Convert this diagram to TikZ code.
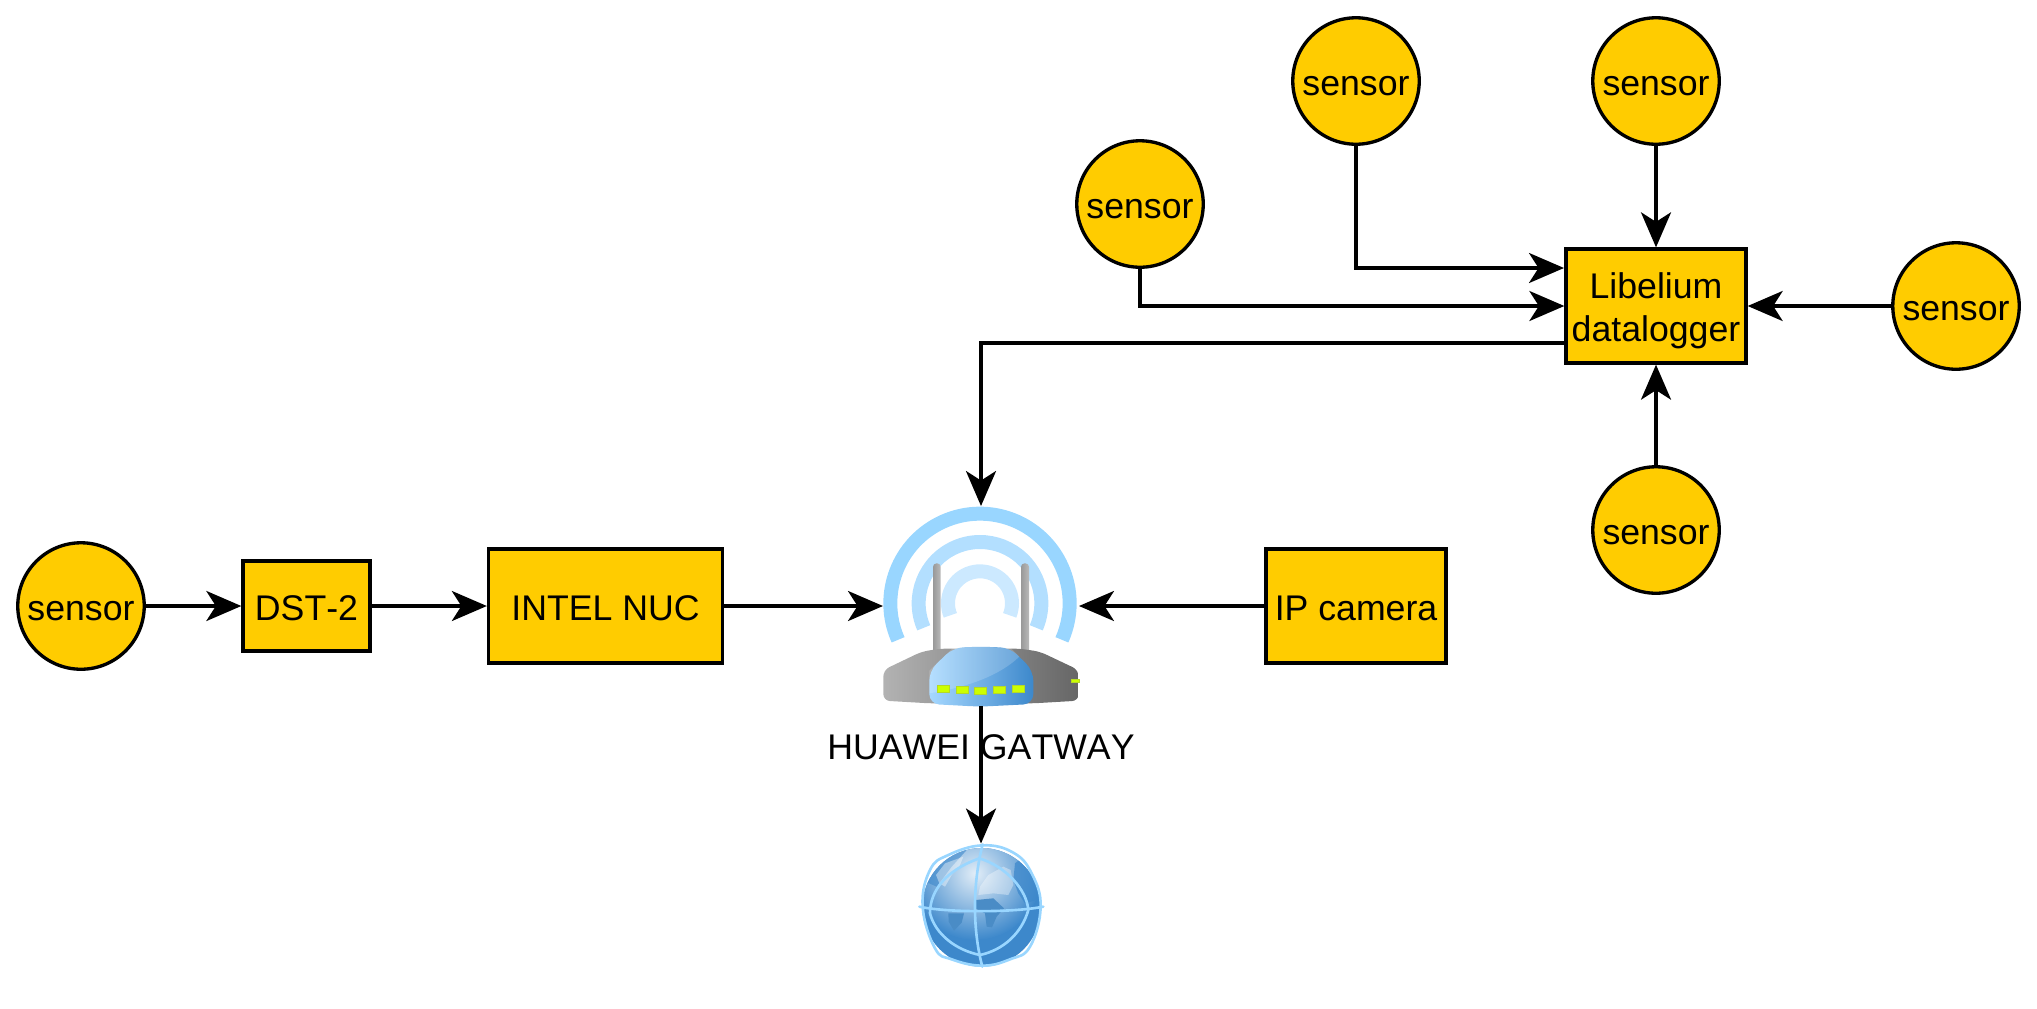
\documentclass[tikz,border=0pt]{standalone}
\usepackage{fontspec}
\setmainfont[Kerning=Off]{Liberation Sans}
\usetikzlibrary{arrows.meta}
\definecolor{nodeyellow}{HTML}{FFCC00}
\definecolor{waveone}{HTML}{99D6FF}
\definecolor{wavetwo}{HTML}{B3DFFF}
\definecolor{wavethree}{HTML}{CCE9FF}
\definecolor{frontblue}{HTML}{3D88CB}
\definecolor{frontlight}{HTML}{A6D8FF}
\definecolor{ledgreen}{HTML}{CCFF00}
\definecolor{landdark}{HTML}{4A8CC6}
\begin{document}
\begin{tikzpicture}[x=0.02cm, y=-0.02cm,
        main/.style = {draw, line width=1.9pt, fill=nodeyellow, inner sep=0pt, align=center, font=\fontsize{20.3pt}{24.5pt}\selectfont},
        sensor/.style = {main, circle, minimum size=2.53cm, text height=17pt, text depth=0pt},
        block/.style = {main, rectangle, text height=17pt, text depth=0pt},
        link/.style = {line width=1.9pt, -{Stealth[length=7mm, width=6mm, inset=1.9mm]}},
        led/.style = {fill=ledgreen, draw=ledgreen!70!gray, line width=0.3pt},
        wire/.style = {draw=waveone, line width=1.5pt, line cap=round, line join=round}]
    \useasboundingbox (0,0) rectangle (2037,1008);

    % Nodes
    \node[sensor] (S0) at (81,606) {sensor};
    \node[block, minimum width=2.54cm, minimum height=1.8cm] (dst) at (306.5,606) {DST-2};
    \node[block, minimum width=4.68cm, minimum height=2.28cm] (nuc) at (605.5,606) {INTEL NUC};
    \node[inner sep=0pt, outer sep=0pt, minimum width=3.92cm, minimum height=4cm] (gateway) at (981,606) {};
    \node[block, minimum width=3.6cm, minimum height=2.28cm] (camera) at (1356,606) {IP camera};
    \node[inner sep=0pt, outer sep=0pt, minimum size=2.5cm] (globe) at (981,906) {};
    \node[main, rectangle, minimum width=3.6cm, minimum height=2.28cm] (logger) at (1656,306) {\rule{0pt}{20.5pt}Libelium\\datalogger};
    \node[sensor] (S1) at (1140,204) {sensor};
    \node[sensor] (S2) at (1356,81) {sensor};
    \node[sensor] (S3) at (1656,81) {sensor};
    \node[sensor] (S4) at (1956,306) {sensor};
    \node[sensor] (S5) at (1656,530) {sensor};
    \node[font=\fontsize{20.3pt}{24.5pt}\selectfont, inner sep=0pt] (gatewaytext) at (981,747) {HUAWEI GATWAY};
    \coordinate (in1) at (1564,268);
    \coordinate (out1) at (1564,343);

    % Router
    \begin{scope}[shift={(840,480)}, x=0.00667cm, y=-0.00667cm]
        \draw[waveone, line width=0.28cm] (420,370) ++(156:269) arc[start angle=156, end angle=384, radius=269];
        \draw[wavetwo, line width=0.28cm] (420,370) ++(156.5:184) arc[start angle=156.5, end angle=383.5, radius=184];
        \draw[wavethree, line width=0.28cm] (420,370) ++(158:96) arc[start angle=158, end angle=382, radius=96];
        \shade[left color=gray!80, right color=gray!55, rounded corners=0.07cm] (279,520) -- (279,250) -- (302,250) -- (302,520) -- cycle;
        \shade[left color=gray!80, right color=gray!55, rounded corners=0.07cm] (543,520) -- (543,250) -- (567,250) -- (567,520) -- cycle;
        \shade[left color=black!30, middle color=black!42, right color=black!60, rounded corners=0.13cm]
            (130,662) -- (130,570) -- (245,515) -- (300,506) -- (540,506) -- (600,515) -- (716,570) -- (716,662) -- (580,670) -- (270,670) -- cycle;
        \path[left color=frontlight, right color=frontblue, rounded corners=0.2cm]
            (268,672) -- (268,572) -- (340,503) -- (420,500) -- (510,503) -- (580,572) -- (580,672) -- (420,680) -- cycle;
        \fill[white, opacity=0.18] (268,640) .. controls (390,620) and (480,585) .. (538,530) -- (512,504) -- (420,500) -- (340,503) -- (268,572) -- cycle;
        \foreach \ledx/\ledy in {310/627, 366/630, 422/632, 478/630, 534/627}
            \path[led] (\ledx-18,\ledy-10) rectangle (\ledx+18,\ledy+10);
        \path[led] (694,597) rectangle (718,606);
    \end{scope}

    % Globe
    \begin{scope}[shift={(880,700)}, x=0.00667cm, y=-0.00667cm]
        \fill[frontblue] (305,622) circle[radius=178];
        \begin{scope}
            \clip (305,622) circle[radius=178];
            \shade[inner color=white!85!frontblue, outer color=frontblue] (285,520) circle[radius=200];
            \fill[frontblue, opacity=0.75] (430,470) .. controls (470,510) and (480,560) .. (470,600) -- (435,610) -- (415,580) -- (400,540) -- (405,490) -- cycle;
            \fill[frontblue, opacity=0.6] (160,470) -- (260,450) -- (215,500) -- (170,560) -- (125,540) -- cycle;
            \fill[landdark] (205,640) -- (252,640) -- (245,668) -- (222,692) -- (206,665) -- cycle;
            \fill[landdark] (288,600) -- (340,595) -- (372,625) -- (350,650) -- (336,682) -- (320,680) -- (315,640) -- (285,625) -- cycle;
            \fill[white, opacity=0.4] (168,525) -- (195,490) -- (250,470) -- (240,495) -- (215,525) -- (195,560) -- (178,550) -- cycle;
            \fill[white, opacity=0.35] (300,560) -- (325,525) -- (370,500) -- (392,510) -- (400,555) -- (385,585) -- (340,580) -- (295,585) -- cycle;
        \end{scope}
        \draw[wire] (118,620) .. controls (200,638) and (400,638) .. (490,620);
        \draw[wire] (308,433) .. controls (280,540) and (275,680) .. (307,800);
        \draw[wire] (298,475) .. controls (200,510) and (150,570) .. (150,640) .. controls (165,700) and (225,750) .. (300,765);
        \draw[wire] (298,475) .. controls (380,500) and (440,570) .. (445,630) .. controls (425,700) and (370,750) .. (300,765);
        \draw[wire] plot[smooth cycle, tension=0.7] coordinates {(308,436) (400,458) (455,520) (482,620) (450,740) (390,778) (307,797) (215,778) (165,745) (128,620) (150,510) (205,465)};
    \end{scope}

    \draw[link] (S0) to (dst);
    \draw[link] (dst) to (nuc);
    \draw[link] (nuc) to (gateway);
    \draw[link] (camera) to (gateway);
    \draw[link] (gateway) to (globe);
    \draw[link] (S1.south) |- (logger.west);
    \draw[link] (S2.south) |- (in1);
    \draw[link] (S3) to (logger);
    \draw[link] (S4) to (logger);
    \draw[link] (S5) to (logger);
    \draw[link] (out1) -| (gateway.north);
\end{tikzpicture}
\end{document}
